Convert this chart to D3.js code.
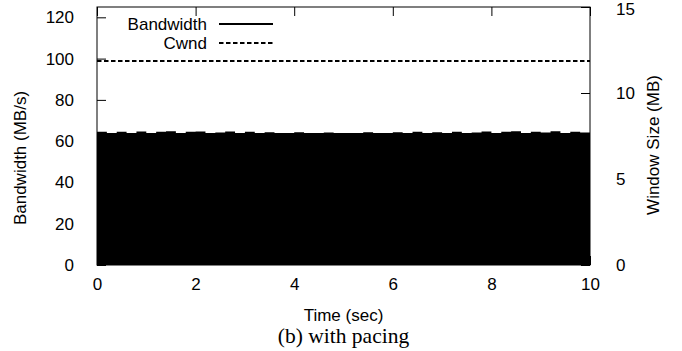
<!DOCTYPE html>
<html>
<head>
<meta charset="utf-8">
<script src="https://cdn.jsdelivr.net/npm/d3@7/dist/d3.min.js"></script>
<style>
  html, body { margin: 0; padding: 0; background: #fff; }
  svg text { font-family: "Liberation Sans", Arial, Helvetica, sans-serif; fill: #000; }
  .caption { font-family: "Liberation Serif", "Times New Roman", serif; }
</style>
</head>
<body>
<svg id="chart" width="682" height="351"></svg>
<script>
// Time axis (seconds)
const timeTicks = [0, 2, 4, 6, 8, 10];
// Bandwidth axis (MB/s) and window axis (MB)
const bwTicks = [0, 20, 40, 60, 80, 100, 120];
const winTicks = [0, 5, 10, 15];

// Peak bandwidth per 0.2 s interval (MB/s); the paced flow alternates so fast
// that the trace fills everything below these peaks.
const bwTime = [0.0,0.2,0.4,0.6,0.8,1.0,1.2,1.4,1.6,1.8,2.0,2.2,2.4,2.6,2.8,3.0,3.2,3.4,3.6,3.8,
  4.0,4.2,4.4,4.6,4.8,5.0,5.2,5.4,5.6,5.8,6.0,6.2,6.4,6.6,6.8,7.0,7.2,7.4,7.6,7.8,
  8.0,8.2,8.4,8.6,8.8,9.0,9.2,9.4,9.6,9.8,10.0];
const bwPeak = [64.5,64.0,64.6,64.0,64.7,64.0,64.5,64.8,64.0,64.6,64.7,64.0,64.2,64.7,64.0,64.5,64.0,64.3,64.0,64.0,
  64.3,64.0,64.0,64.2,64.0,64.0,64.0,64.3,64.0,64.0,64.3,64.0,64.5,64.0,64.3,64.0,64.5,64.0,64.2,64.7,
  64.0,64.5,64.8,64.0,64.6,64.2,64.8,64.0,64.6,64.2,64.5];

// Congestion window (MB), flat for the whole run
const cwndTime = [0, 10];
const cwndMB = [11.86, 11.86];

const svg = d3.select("#chart");
const m = { left: 97, right: 590, top: 7, bottom: 265 };

const x = d3.scaleLinear().domain([0, 10]).range([m.left, m.right]);
const yBw = d3.scaleLinear().domain([0, 125]).range([m.bottom, m.top]);
const yWin = d3.scaleLinear().domain([0, 15]).range([m.bottom, m.top]);

const tickLen = 9;
const fs = 17;

// Bandwidth trace
const bwData = bwTime.map((t, i) => ({ t, v: bwPeak[i] }));
svg.append("path")
  .datum(bwData)
  .attr("d", d3.area().curve(d3.curveStepAfter)
    .x(d => x(d.t)).y0(yBw(0)).y1(d => yBw(d.v)))
  .attr("fill", "#000");

// Frame
svg.append("rect")
  .attr("x", m.left).attr("y", m.top)
  .attr("width", m.right - m.left).attr("height", m.bottom - m.top)
  .attr("fill", "none").attr("stroke", "#000").attr("stroke-width", 1);

// Bottom axis, with ticks mirrored on top
const xAxis = svg.append("g").attr("transform", `translate(0,${m.bottom})`)
  .call(d3.axisBottom(x).tickValues(timeTicks).tickSizeInner(-tickLen).tickSizeOuter(0).tickPadding(13));
const xTop = svg.append("g").attr("transform", `translate(0,${m.top})`)
  .call(d3.axisTop(x).tickValues(timeTicks).tickSizeInner(-tickLen).tickSizeOuter(0).tickFormat(""));

// Left axis (bandwidth)
const yAxis = svg.append("g").attr("transform", `translate(${m.left},0)`)
  .call(d3.axisLeft(yBw).tickValues(bwTicks).tickSizeInner(-tickLen).tickSizeOuter(0).tickPadding(23));

// Right axis (window size)
const y2Axis = svg.append("g").attr("transform", `translate(${m.right},0)`)
  .call(d3.axisRight(yWin).tickValues(winTicks).tickSizeInner(-tickLen).tickSizeOuter(0).tickPadding(26));

[xAxis, xTop, yAxis, y2Axis].forEach(g => {
  g.select(".domain").remove();
  g.selectAll(".tick line").attr("stroke", "#000");
  g.selectAll(".tick text").attr("font-size", fs)
    .style("font-family", '"Liberation Sans", Arial, sans-serif');
});
// Keep the top window label inside the page
y2Axis.selectAll(".tick text").filter(d => d === 15).attr("dy", "0.42em");

// Cwnd line
svg.append("path")
  .datum(cwndTime.map((t, i) => ({ t, v: cwndMB[i] })))
  .attr("d", d3.line().x(d => x(d.t)).y(d => yWin(d.v)))
  .attr("fill", "none").attr("stroke", "#000")
  .attr("stroke-width", 2).attr("stroke-dasharray", "4.5,2.5");

// Axis titles
svg.append("text")
  .attr("transform", `translate(26,158) rotate(-90)`)
  .attr("text-anchor", "middle").attr("font-size", fs)
  .text("Bandwidth (MB/s)");
svg.append("text")
  .attr("transform", `translate(659,145) rotate(-90)`)
  .attr("text-anchor", "middle").attr("font-size", fs)
  .text("Window Size (MB)");
svg.append("text")
  .attr("x", x(5)).attr("y", 321)
  .attr("text-anchor", "middle").attr("font-size", fs)
  .text("Time (sec)");
svg.append("text")
  .attr("class", "caption")
  .attr("x", x(5)).attr("y", 343)
  .attr("text-anchor", "middle").attr("font-size", 21.5)
  .text("(b) with pacing");

// Legend
const legend = [
  { label: "Bandwidth", dash: null, y: 24 },
  { label: "Cwnd", dash: "4.5,2.5", y: 43 }
];
legend.forEach(d => {
  svg.append("text")
    .attr("x", 207).attr("y", d.y).attr("dy", "0.35em")
    .attr("text-anchor", "end").attr("font-size", fs)
    .text(d.label);
  svg.append("line")
    .attr("x1", 219).attr("x2", 273).attr("y1", d.y).attr("y2", d.y)
    .attr("stroke", "#000").attr("stroke-width", 2)
    .attr("stroke-dasharray", d.dash);
});
</script>
</body>
</html>
